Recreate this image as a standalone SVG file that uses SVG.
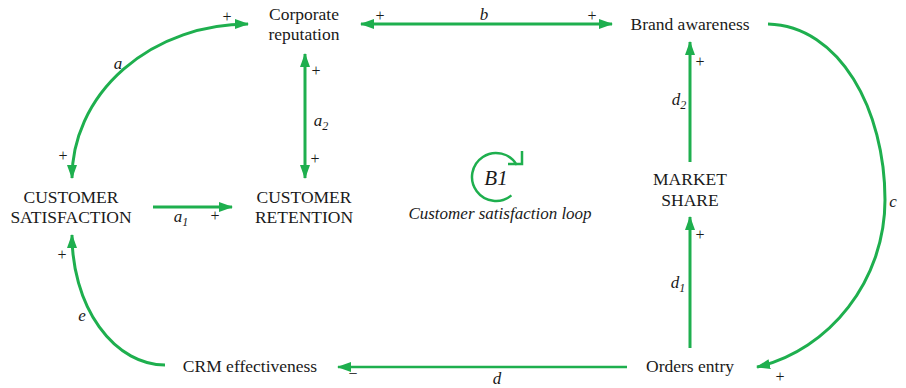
<svg xmlns="http://www.w3.org/2000/svg" width="906" height="388" viewBox="0 0 906 388">
<style>
.node{font-family:'Liberation Serif','DejaVu Serif',serif;font-size:17.5px;fill:#1a1a1a;text-anchor:middle}
.lbl{font-family:'Liberation Serif','DejaVu Serif',serif;font-size:17px;font-style:italic;fill:#1a1a1a;text-anchor:middle}
.sgn{font-family:'Liberation Serif','DejaVu Serif',serif;font-size:16px;fill:#1a1a1a;text-anchor:middle}
.ln{fill:none;stroke:#1eaf4e;stroke-width:3}
</style>
<defs>
<marker id="ah" markerUnits="userSpaceOnUse" viewBox="0 0 14 10" refX="13" refY="5" markerWidth="14" markerHeight="10" orient="auto-start-reverse">
<path d="M0,0 L14,5 L0,10 z" fill="#1eaf4e"/>
</marker>
</defs>
<rect width="906" height="388" fill="#ffffff"/>
<g id="connectors">
<path class="ln" d="M72,178 A176,154 0 0 1 248,24" marker-start="url(#ah)" marker-end="url(#ah)"/>
<path class="ln" d="M305,54 L305,178" marker-start="url(#ah)" marker-end="url(#ah)"/>
<path class="ln" d="M153,207 L232,207" marker-end="url(#ah)"/>
<path class="ln" d="M361,24 L612,24" marker-start="url(#ah)" marker-end="url(#ah)"/>
<path class="ln" d="M768,24 C840,26 885,110 885,200 C885,280 830,350 757,367" marker-end="url(#ah)"/>
<path class="ln" d="M690,162 L690,42" marker-end="url(#ah)"/>
<path class="ln" d="M690,348 L690,217" marker-end="url(#ah)"/>
<path class="ln" style="stroke-width:2.5" d="M627,367 L338,367" marker-end="url(#ah)"/>
<path class="ln" d="M165,365 A93,130 0 0 1 72,235" marker-end="url(#ah)"/>
<text class="lbl" x="118" y="69">a</text>
<text class="sgn" x="227" y="22">+</text>
<text class="sgn" x="63" y="161">+</text>
<text class="sgn" x="316" y="76">+</text>
<text class="lbl" x="321" y="126">a<tspan font-size="12" dy="4">2</tspan></text>
<text class="sgn" x="315" y="164">+</text>
<text class="lbl" x="181" y="222">a<tspan font-size="12" dy="4">1</tspan></text>
<text class="sgn" x="215" y="221">+</text>
<text class="sgn" x="380" y="21">+</text>
<text class="lbl" x="484" y="20">b</text>
<text class="sgn" x="592" y="21">+</text>
<text class="lbl" x="893" y="207">c</text>
<text class="sgn" x="780" y="382">+</text>
<text class="lbl" x="679" y="105">d<tspan font-size="12" dy="4">2</tspan></text>
<text class="sgn" x="700" y="67">+</text>
<text class="lbl" x="678" y="288">d<tspan font-size="12" dy="4">1</tspan></text>
<text class="sgn" x="700" y="240">+</text>
<text class="lbl" x="497" y="384">d</text>
<text class="sgn" x="353" y="379">−</text>
<text class="lbl" x="82" y="321">e</text>
<text class="sgn" x="62" y="260">+</text>
</g>
<g id="node-corporate-reputation">
<text class="node" x="304" y="20">Corporate</text>
<text class="node" x="304" y="40">reputation</text>
</g>
<g id="node-customer-satisfaction">
<text class="node" x="71" y="203">CUSTOMER</text>
<text class="node" x="71" y="223">SATISFACTION</text>
</g>
<g id="node-customer-retention">
<text class="node" x="304" y="203">CUSTOMER</text>
<text class="node" x="304" y="223">RETENTION</text>
</g>
<g id="node-brand-awareness">
<text class="node" x="690" y="30">Brand awareness</text>
</g>
<g id="node-market-share">
<text class="node" x="690" y="185">MARKET</text>
<text class="node" x="690" y="206">SHARE</text>
</g>
<g id="node-orders-entry">
<text class="node" x="690" y="372">Orders entry</text>
</g>
<g id="node-crm-effectiveness">
<text class="node" x="250" y="372">CRM effectiveness</text>
</g>
<g id="loop-b1">
<path fill="none" stroke="#1eaf4e" stroke-width="2.5" d="M511.4,195.4 A24,24 0 1 1 516.8,165"/>
<path fill="none" stroke="#1eaf4e" stroke-width="2.5" d="M508,164 L522,164 L522,151"/>
<text class="lbl" x="496" y="185" style="font-size:21px">B1</text>
<text class="lbl" x="500" y="219">Customer satisfaction loop</text>
</g>
</svg>
